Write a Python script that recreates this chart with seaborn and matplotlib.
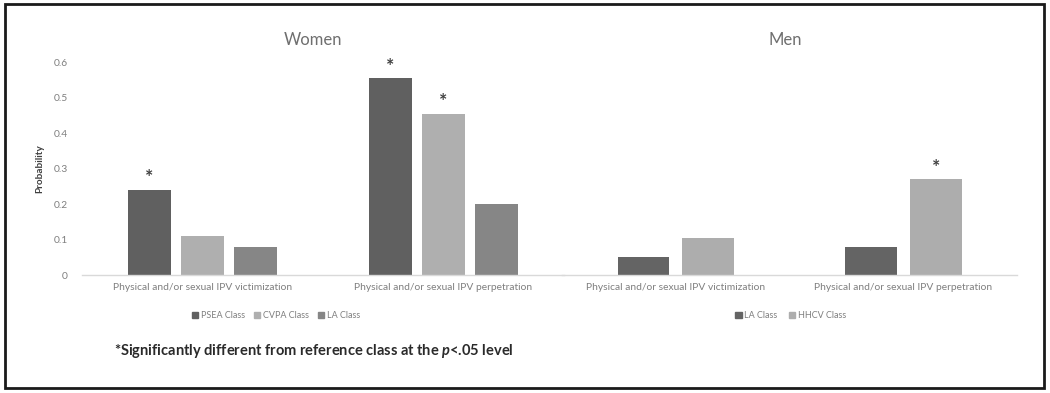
import numpy as np
import pandas as pd
import matplotlib
matplotlib.use("Agg")
import matplotlib.pyplot as plt
import seaborn as sns
from matplotlib.patches import Rectangle

# data -------------------------------------------------------------
outcomes = ["Physical and/or sexual IPV victimization",
            "Physical and/or sexual IPV perpetration"]

women_classes = ["PSEA Class", "CVPA Class", "LA Class"]
women_psea = [0.24, 0.555]
women_cvpa = [0.11, 0.455]
women_la = [0.08, 0.20]
women_sig = [[True, False, False], [True, True, False]]  # per outcome, per class

men_classes = ["LA Class", "HHCV Class"]
men_la = [0.05, 0.08]
men_hhcv = [0.105, 0.27]
men_sig = [[False, False], [False, True]]

yticks = [0, 0.1, 0.2, 0.3, 0.4, 0.5, 0.6]
ytick_labels = ["0", "0.1", "0.2", "0.3", "0.4", "0.5", "0.6"]

women_df = pd.DataFrame({
    "outcome": outcomes * 3,
    "cls": np.repeat(women_classes, 2),
    "prob": women_psea + women_cvpa + women_la,
})
men_df = pd.DataFrame({
    "outcome": outcomes * 2,
    "cls": np.repeat(men_classes, 2),
    "prob": men_la + men_hhcv,
})

sns.set_style("white")
plt.rcParams["font.family"] = ["Lato", "DejaVu Sans"]
plt.rcParams["mathtext.fontset"] = "custom"
plt.rcParams["mathtext.it"] = "Lato:italic:bold"

txt = "#7f7f7f"
women_pal = ["#606060", "#afafaf", "#868686"]
men_pal = ["#646464", "#adadad"]

fig = plt.figure(figsize=(10.5, 3.93), dpi=100)
ax_w = fig.add_axes([0.078, 0.300, 0.459, 0.542])
ax_m = fig.add_axes([0.535, 0.300, 0.434, 0.542])

sns.barplot(data=women_df, x="outcome", y="prob", hue="cls", order=outcomes,
            hue_order=women_classes, palette=women_pal, width=0.66, gap=0.19,
            saturation=1, linewidth=0, legend=False, ax=ax_w)
sns.barplot(data=men_df, x="outcome", y="prob", hue="cls", order=outcomes,
            hue_order=men_classes, palette=men_pal, width=0.57, gap=0.21,
            saturation=1, linewidth=0, legend=False, ax=ax_m)


def add_stars(ax, sig, n_cls):
    # seaborn draws patches hue by hue, each over all outcomes
    for k, p in enumerate(ax.patches[:n_cls * len(outcomes)]):
        h = k // len(outcomes)
        o = k % len(outcomes)
        if sig[o][h]:
            ax.text(p.get_x() + p.get_width() / 2, p.get_height() + 0.010, "*",
                    ha="center", va="bottom", fontsize=14, color="#404040",
                    fontweight="bold")


add_stars(ax_w, women_sig, len(women_classes))
add_stars(ax_m, men_sig, len(men_classes))

for ax, title, tx in [(ax_w, "Women", 0.48), (ax_m, "Men", 0.49)]:
    ax.set_ylim(0, 0.6)
    ax.set_xlabel("")
    ax.set_ylabel("")
    for s in ["top", "right", "left"]:
        ax.spines[s].set_visible(False)
    ax.spines["bottom"].set_color("#d9d9d9")
    ax.spines["bottom"].set_linewidth(1)
    ax.tick_params(axis="x", length=0, labelsize=7.4, labelcolor=txt, pad=6)
    ax.set_title(title, fontsize=12, color="#6f6f6f", pad=12, x=tx)
    ax.patch.set_alpha(0)

ax_w.set_yticks(yticks)
ax_w.set_yticklabels(ytick_labels)
ax_w.tick_params(axis="y", length=0, labelsize=7.4, labelcolor=txt, pad=10)
ax_w.set_ylabel("Probability", fontsize=7.2, color="#404040", fontweight="bold",
                labelpad=7)
ax_m.set_yticks([])

w_handles = [Rectangle((0, 0), 1, 1, color=c) for c in women_pal]
m_handles = [Rectangle((0, 0), 1, 1, color=c) for c in men_pal]
fig.legend(w_handles, women_classes, loc="center", bbox_to_anchor=(0.263, 0.196),
           ncol=3, frameon=False, fontsize=6.5, labelcolor=txt, handlelength=0.7,
           handleheight=0.7, handletextpad=0.3, columnspacing=1.0)
fig.legend(m_handles, men_classes, loc="center", bbox_to_anchor=(0.753, 0.196),
           ncol=2, frameon=False, fontsize=6.5, labelcolor=txt, handlelength=0.7,
           handleheight=0.7, handletextpad=0.3, columnspacing=1.2)

fig.text(0.109, 0.108, r"*Significantly different from reference class at the $\mathit{p}$<.05 level",
         fontsize=10.5, color="#2a2a2a", fontweight="bold", va="center")

# outer black frame
fig.patches.append(Rectangle((0.005, 0.013), 0.989, 0.977, transform=fig.transFigure,
                             fill=False, edgecolor="#1a1a1a", linewidth=2))

fig.savefig("out.png", dpi=100)
